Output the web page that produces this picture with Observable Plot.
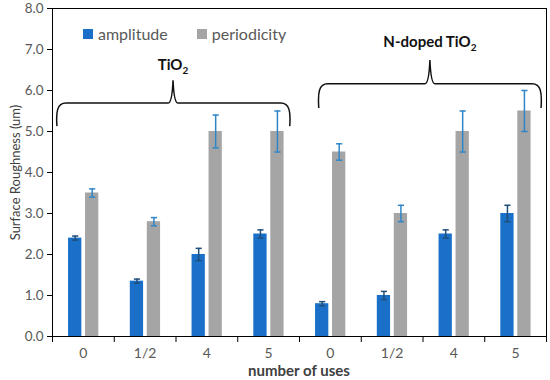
<!DOCTYPE html>
<html>
<head>
<meta charset="utf-8">
<script src="https://cdn.jsdelivr.net/npm/d3@7"></script>
<script src="https://cdn.jsdelivr.net/npm/@observablehq/plot@0.6"></script>
<style>
  html, body { margin: 0; padding: 0; background: #fff; }
  #wrap { position: relative; width: 550px; height: 380px; font-family: Lato, "Open Sans", sans-serif; }
  #legend { position: absolute; left: 83px; top: 24px; font-size: 16px; color: #595959; display: flex; gap: 0; }
  .item { display: flex; align-items: center; }
  .sw { width: 10px; height: 10px; margin-right: 5px; }
</style>
</head>
<body>
<div id="wrap">
  <div id="legend"></div>
</div>
<script>
// ---- data ----
const groups = ["TiO2", "N-doped TiO2"];
const uses = ["0", "1/2", "4", "5"];
const series = ["amplitude", "periodicity"];
const colors = ["#1a70c8", "#a5a5a5"];
const errColors = ["#1f4e79", "#2e86c8"];

const amplitudeTiO2 = [2.4, 1.35, 2.0, 2.5];
const amplitudeTiO2Err = [0.05, 0.05, 0.15, 0.1];
const periodicityTiO2 = [3.5, 2.8, 5.0, 5.0];
const periodicityTiO2Err = [0.1, 0.1, 0.4, 0.5];

const amplitudeN = [0.8, 1.0, 2.5, 3.0];
const amplitudeNErr = [0.05, 0.1, 0.1, 0.2];
const periodicityN = [4.5, 3.0, 5.0, 5.5];
const periodicityNErr = [0.2, 0.2, 0.5, 0.5];

const yTicks = [0, 1, 2, 3, 4, 5, 6, 7, 8];

// brace annotations (in category / value units)
const braceLabels = ["TiO", "N-doped TiO"];
const braceFrom = [0.08, 4.32];
const braceTo = [3.85, 7.92];
const braceTip = [1.96, 6.12];
const braceEndY = [5.12, 5.56];
const braceLineY = [5.68, 6.15];
const braceTipY = [6.24, 6.73];
const braceTextY = [6.5, 7.05];

// ---- build table ----
const rows = [];
const valueSets = [
  [amplitudeTiO2, amplitudeTiO2Err, periodicityTiO2, periodicityTiO2Err],
  [amplitudeN, amplitudeNErr, periodicityN, periodicityNErr]
];
groups.forEach((g, gi) => {
  uses.forEach((u, ui) => {
    const cat = gi * uses.length + ui;
    series.forEach((s, si) => {
      const v = valueSets[gi][si * 2][ui];
      const e = valueSets[gi][si * 2 + 1][ui];
      const off = si === 0 ? [0.26, 0.475] : [0.535, 0.75];
      rows.push({cat, group: g, use: u, series: s, si, value: v, err: e,
        x1: cat + off[0], x2: cat + off[1], xc: cat + (off[0] + off[1]) / 2});
    });
  });
});
const nCat = groups.length * uses.length;
const catLabels = d3.range(nCat).map(i => uses[i % uses.length]);

// ---- brace mark ----
function braces(index, scales) {
  const sx = scales.x, sy = scales.y;
  const g = d3.create("svg:g");
  braceLabels.forEach((lab, i) => {
    const x1 = sx(braceFrom[i]), x2 = sx(braceTo[i]), xm = sx(braceTip[i]);
    const yE = sy(braceEndY[i]), yH = sy(braceLineY[i]), yT = sy(braceTipY[i]);
    const r = 9;
    const d = `M${x1},${yE} C${x1 - 1},${yH + r} ${x1},${yH} ${x1 + r},${yH}` +
      ` L${xm - 5},${yH} Q${xm - 1},${yH} ${xm},${yT} Q${xm + 1},${yH} ${xm + 5},${yH}` +
      ` L${x2 - r},${yH} C${x2},${yH} ${x2 + 1},${yH + r} ${x2},${yE}`;
    g.append("path").attr("d", d).attr("fill", "none").attr("stroke", "#111").attr("stroke-width", 1.5);
    const t = g.append("text").attr("x", xm).attr("y", sy(braceTextY[i]))
      .attr("text-anchor", "middle").attr("font-weight", "bold").attr("font-size", 15)
      .attr("fill", "#111").attr("font-family", "Lato, 'Open Sans', sans-serif");
    t.append("tspan").text(lab);
    t.append("tspan").text("2").attr("font-size", 10).attr("dy", 4);
  });
  return g.node();
}

const chart = Plot.plot({
  width: 550,
  height: 380,
  marginLeft: 52,
  marginRight: 4,
  marginTop: 8,
  marginBottom: 44,
  style: {fontFamily: "Lato, 'Open Sans', sans-serif", background: "#fff", overflow: "visible"},
  x: {domain: [0, nCat], axis: null},
  y: {domain: [0, 8], axis: null},
  marks: [
    Plot.rectY(rows, {x1: "x1", x2: "x2", y: "value", fill: d => colors[d.si]}),
    Plot.ruleX(rows, {x: "xc", y1: d => d.value - d.err, y2: d => d.value + d.err,
      stroke: d => errColors[d.si], strokeWidth: 1.5}),
    Plot.link(rows, {x1: d => d.xc - 0.05, x2: d => d.xc + 0.05, y1: d => d.value + d.err, y2: d => d.value + d.err,
      stroke: d => errColors[d.si], strokeWidth: 1.5}),
    Plot.link(rows, {x1: d => d.xc - 0.05, x2: d => d.xc + 0.05, y1: d => d.value - d.err, y2: d => d.value - d.err,
      stroke: d => errColors[d.si], strokeWidth: 1.5}),
    Plot.frame({stroke: "#000", strokeWidth: 1}),
    Plot.axisY({ticks: yTicks, tickFormat: d3.format(".1f"), tickSize: 5, tickPadding: 4,
      fontSize: 13.5, color: "#595959", stroke: "#000",
      label: "Surface Roughness (um)", labelAnchor: "center", labelOffset: 42, labelArrow: "none"}),
    Plot.axisX({ticks: d3.range(nCat + 1), tickFormat: () => "", tickSize: 6, stroke: "#000", label: null}),
    Plot.axisX({ticks: d3.range(nCat).map(i => i + 0.5), tickFormat: (d, i) => catLabels[i], tickSize: 0,
      tickPadding: 12, fontSize: 14, color: "#595959", label: null}),
    braces
  ]
});
document.getElementById("wrap").prepend(chart);

// style axis labels
d3.select(chart).selectAll("[aria-label='y-axis label'] text, [aria-label='y-axis label']")
  .attr("font-size", 13).attr("fill", "#404040");

// x axis title
d3.select(chart).append("text")
  .attr("x", (52 + 546) / 2).attr("y", 376).attr("text-anchor", "middle")
  .attr("font-size", 15).attr("font-weight", "bold").attr("fill", "#404040")
  .text("number of uses");

// legend
const leg = d3.select("#legend");
series.forEach((s, i) => {
  const it = leg.append("div").attr("class", "item").style("margin-right", i === 0 ? "29px" : "0");
  it.append("div").attr("class", "sw").style("background", colors[i]);
  it.append("span").text(s);
});
</script>
</body>
</html>
